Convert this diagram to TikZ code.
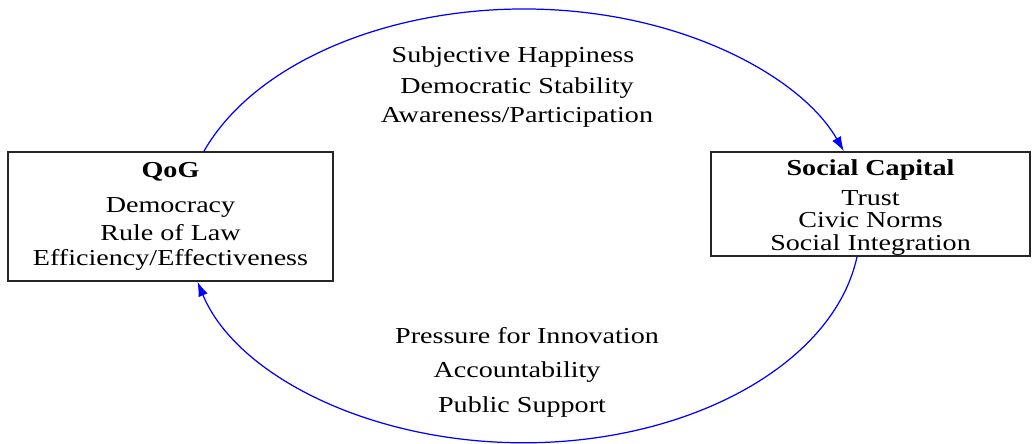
\documentclass[tikz,border=0pt]{standalone}
\usepackage{fontspec}
\setmainfont{Liberation Serif}[FakeStretch=1.23]
\usepackage{tikz}
\usetikzlibrary{arrows.meta,positioning}

\begin{document}
\begin{tikzpicture}[x=0.02cm, y=0.02cm,
    box/.style={draw=black!85, line width=1pt, align=center, font=\fontsize{13}{14.2}\selectfont},
    lbl/.style={anchor=base, inner sep=0pt, font=\fontsize{13}{14.2}\selectfont},
    link/.style={->, draw=blue, line width=0.7pt},
    >={Latex[length=2.9mm, width=2mm]}]
    \useasboundingbox (0,0) rectangle (1033,-443);

    % the two blocks
    \node[box, minimum width=6.5cm, minimum height=2.58cm] (qog) at (170.5,-216.5)
        {\textbf{QoG}\\[5.6pt] Democracy\\[1.7pt] Rule of Law\\ Efficiency/Effectiveness};
    \node[box, inner ysep=0pt, minimum width=6.38cm, minimum height=2.08cm] (social) at (870.5,-204)
        {\rule{0pt}{13.3pt}\textbf{Social Capital}\\[2.8pt] Trust\\[-1.7pt] Civic Norms\\[-1.2pt] Social Integration};

    % effects along the upper arc
    \node[lbl] (happy) at (513,-62) {Subjective Happiness};
    \node[lbl] (stab) at (517,-93) {Democratic Stability};
    \node[lbl] (aware) at (517,-122) {Awareness/Participation};

    % effects along the lower arc
    \node[lbl] (press) at (527,-343) {Pressure for Innovation};
    \node[lbl] (acc) at (517,-377) {Accountability};
    \node[lbl] (supp) at (522,-412) {Public Support};

    % feedback loop, drawn as two elliptic arcs
    \draw[link] ([xshift=0.67cm]qog.north) arc[start angle=160, end angle=20, x radius=6.81cm, y radius=4.32cm];
    \draw[link] ([xshift=-0.27cm]social.south) arc[start angle=-8, end angle=-165.25, x radius=6.74cm, y radius=4.32cm];
\end{tikzpicture}
\end{document}
